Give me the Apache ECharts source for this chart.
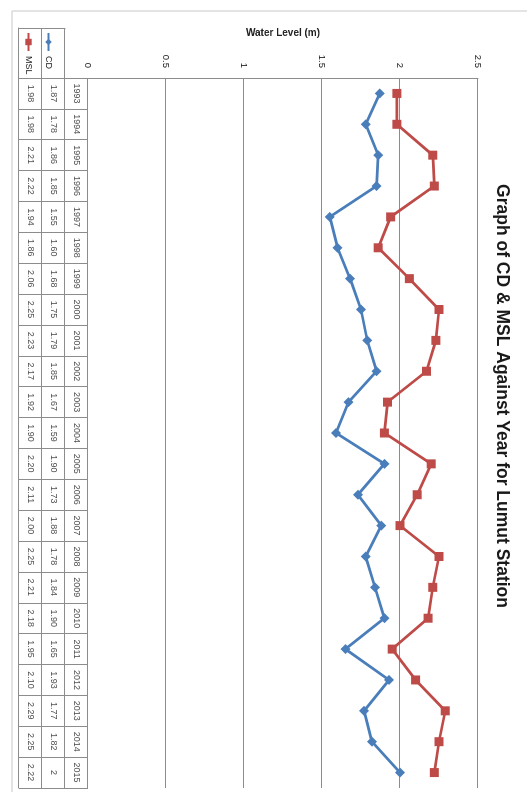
<!DOCTYPE html>
<html>
<head>
<meta charset="utf-8">
<script src="https://cdn.jsdelivr.net/npm/echarts@6/dist/echarts.min.js"></script>
<style>
  html, body { margin: 0; padding: 0; background: #fff; overflow: hidden; }
  body { width: 527px; height: 792px; position: relative; }
  /* the chart is laid out landscape and turned a quarter clockwise onto the portrait page */
  #chart {
    position: absolute; left: 0; top: 0;
    width: 792px; height: 527px;
    transform-origin: 0 0;
    transform: translate(527px, 0) rotate(90deg);
  }
</style>
</head>
<body>
<div id="chart"></div>
<script>
// Yearly chart datum (CD) and mean sea level (MSL) at Lumut, in metres
const years = ['1993','1994','1995','1996','1997','1998','1999','2000','2001','2002','2003',
               '2004','2005','2006','2007','2008','2009','2010','2011','2012','2013','2014','2015'];
const cd  = ['1.87','1.78','1.86','1.85','1.55','1.60','1.68','1.75','1.79','1.85','1.67',
             '1.59','1.90','1.73','1.88','1.78','1.84','1.90','1.65','1.93','1.77','1.82','2'];
const msl = ['1.98','1.98','2.21','2.22','1.94','1.86','2.06','2.25','2.23','2.17','1.92',
             '1.90','2.20','2.11','2.00','2.25','2.21','2.18','1.95','2.10','2.29','2.25','2.22'];
const levelTicks = { min: 0, max: 2.5, step: 0.5 };
const tableRows = ['Year', 'CD', 'MSL'];

const FONT = 'Liberation Sans';
const GRID_COLOR = '#8c8c8c';
const CD_COLOR = '#4a7ebb';
const MSL_COLOR = '#be4b48';

// cells of the data table under the plot
const tableCells = [];
years.forEach((y, i) => {
  tableCells.push([y, 'Year', y]);
  tableCells.push([y, 'CD', cd[i]]);
  tableCells.push([y, 'MSL', msl[i]]);
});

// a category axis drawn as table rules: one line at every cell boundary
const ruleAxis = (gridIndex, data, extra) => Object.assign({
  gridIndex, type: 'category', data, boundaryGap: true,
  axisLine: { show: true, lineStyle: { color: GRID_COLOR } },
  axisTick: { show: false },
  axisLabel: { show: false, interval: 0 },
  splitLine: { show: true, interval: 0, lineStyle: { color: GRID_COLOR, width: 1 } }
}, extra || {});

const chart = echarts.init(document.getElementById('chart'), null, { renderer: 'canvas' });

chart.setOption({
  backgroundColor: '#fff',
  animation: false,
  textStyle: { fontFamily: FONT },
  title: {
    text: 'Graph of CD & MSL Against Year for Lumut Station',
    left: 'center',
    top: 11,
    textStyle: { fontFamily: FONT, fontSize: 17.5, fontWeight: 'bold', color: '#1a1a1a' }
  },
  legend: {
    data: ['CD', 'MSL'],
    orient: 'vertical',
    left: 27,
    top: 469,
    itemWidth: 18,
    itemHeight: 8,
    itemGap: 11,
    textStyle: { fontFamily: FONT, fontSize: 9, color: '#222' }
  },
  graphic: [{
    type: 'rect',
    shape: { x: 11, y: -10, width: 900, height: 525 },
    style: { fill: 'none', stroke: '#c8c8c8', lineWidth: 1 },
    silent: true,
    z: -10
  }],
  grid: [
    { left: 78, right: 4, top: 49, bottom: 88 },   // plot
    { left: 78, right: 4, top: 439, bottom: 19 },  // data table
    { left: 28, right: 714, top: 462, bottom: 19 } // legend keys
  ],
  xAxis: [
    {
      gridIndex: 0, type: 'category', data: years, boundaryGap: true,
      axisLine: { show: false }, axisTick: { show: false }, axisLabel: { show: false }
    },
    ruleAxis(1, years),
    ruleAxis(2, [''])
  ],
  yAxis: [
    {
      gridIndex: 0, type: 'value',
      min: levelTicks.min, max: levelTicks.max, interval: levelTicks.step,
      name: 'Water Level (m)', nameLocation: 'middle', nameGap: 40, nameRotate: 90,
      nameTextStyle: { fontFamily: FONT, fontSize: 10, fontWeight: 'bold', color: '#222' },
      axisLine: { show: true, lineStyle: { color: GRID_COLOR } },
      axisTick: { show: false },
      axisLabel: { fontFamily: FONT, fontSize: 9.5, color: '#222', margin: 10 },
      splitLine: { show: true, lineStyle: { color: GRID_COLOR, width: 1 } }
    },
    ruleAxis(1, tableRows, { inverse: true }),
    ruleAxis(2, ['CD', 'MSL'], { inverse: true })
  ],
  series: [
    {
      name: 'CD', type: 'line', xAxisIndex: 0, yAxisIndex: 0,
      data: cd,
      color: CD_COLOR,
      symbol: 'diamond', symbolSize: 10,
      lineStyle: { width: 2.75, color: CD_COLOR },
      itemStyle: { color: CD_COLOR }
    },
    {
      name: 'MSL', type: 'line', xAxisIndex: 0, yAxisIndex: 0,
      data: msl,
      color: MSL_COLOR,
      symbol: 'rect', symbolSize: 9,
      lineStyle: { width: 2.75, color: MSL_COLOR },
      itemStyle: { color: MSL_COLOR }
    },
    {
      name: 'table', type: 'scatter', xAxisIndex: 1, yAxisIndex: 1,
      data: tableCells,
      symbolSize: 1,
      itemStyle: { color: 'rgba(0,0,0,0)' },
      silent: true,
      label: {
        show: true, position: 'inside',
        formatter: p => p.value[2],
        fontFamily: FONT, fontSize: 9, color: '#222'
      }
    }
  ]
});
</script>
</body>
</html>
